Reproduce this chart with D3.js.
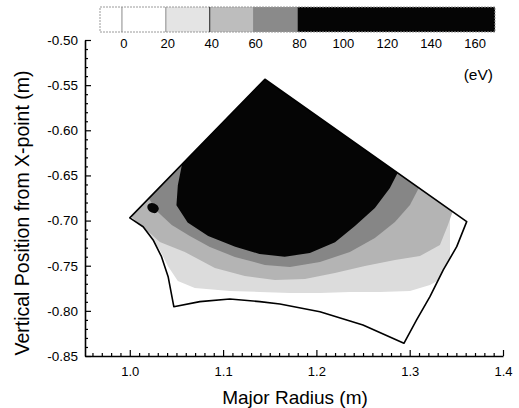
<!DOCTYPE html>
<html>
<head>
<meta charset="utf-8">
<script src="https://cdn.jsdelivr.net/npm/d3@7"></script>
<style>
  body { margin: 0; background: #fff; }
  text { font-family: "Liberation Sans", Arial, Helvetica, sans-serif; fill: #000; }
</style>
</head>
<body>
<svg id="chart" width="519" height="408"></svg>
<script>
// ---- Temperature levels (eV) and the shade used above each one ----
const levelValues = [20, 40, 60, 80];
const levelFills  = ["#dcdcdc", "#b4b4b4", "#868686", "#050505"];

// ---- Colour bar bins (eV) ----
const barLo    = [-10, 0, 20, 40, 60, 80];
const barHi    = [0, 20, 40, 60, 80, 170];
const barFills = ["#ffffff", "#ffffff", "#e4e4e4", "#bdbdbd", "#8a8a8a", "#050505"];
const barTicks = [0, 20, 40, 60, 80, 100, 120, 140, 160];

// ---- Axis ticks ----
const xTicks = [1.0, 1.1, 1.2, 1.3, 1.4];
const yTicks = [-0.85, -0.80, -0.75, -0.70, -0.65, -0.60, -0.55, -0.50];

// ---- Grid outline, [R, Z] in metres ----
const domainOutline = [
  [1.000, -0.6970], [1.1448, -0.5435], [1.3611, -0.7012], [1.3504, -0.7289],
  [1.3360, -0.7547], [1.3217, -0.7843], [1.3074, -0.8101], [1.2938, -0.8359],
  [1.2499, -0.8156], [1.2038, -0.8009], [1.1609, -0.7924], [1.1394, -0.7898],
  [1.1072, -0.7868], [1.0751, -0.7898], [1.0472, -0.7954], [1.0411, -0.7621],
  [1.0340, -0.7400], [1.0250, -0.7215], [1.0143, -0.7068]
];

// ---- Isotherms, [R, Z]; the hotter side lies above each line ----
const iso20 = [
  [1.0054, -0.7016], [1.0214, -0.7171], [1.0322, -0.7326], [1.0408, -0.7503],
  [1.0515, -0.7669], [1.0697, -0.7747], [1.1072, -0.7780], [1.1394, -0.7791],
  [1.1716, -0.7802], [1.2038, -0.7802], [1.2359, -0.7791], [1.2681, -0.7791],
  [1.3003, -0.7780], [1.3217, -0.7713], [1.3432, -0.7592]
];
const iso40 = [
  [0.9979, -0.6927], [1.0129, -0.7060], [1.0322, -0.7237], [1.0590, -0.7348],
  [1.0912, -0.7525], [1.1233, -0.7614], [1.1555, -0.7658], [1.1877, -0.7647],
  [1.2198, -0.7580], [1.2520, -0.7503], [1.2842, -0.7437], [1.3110, -0.7392],
  [1.3324, -0.7270], [1.3410, -0.7049], [1.3485, -0.6827]
];
const iso60 = [
  [1.0107, -0.6606], [1.0300, -0.6905], [1.0450, -0.7049], [1.0643, -0.7171],
  [1.0858, -0.7293], [1.1126, -0.7403], [1.1448, -0.7492], [1.1716, -0.7514],
  [1.2038, -0.7459], [1.2359, -0.7348], [1.2627, -0.7193], [1.2842, -0.7016],
  [1.3003, -0.6827], [1.3131, -0.6573]
];
const iso80 = [
  [1.0590, -0.6218], [1.0515, -0.6610], [1.0500, -0.6830], [1.0620, -0.7020],
  [1.0840, -0.7170], [1.1130, -0.7290], [1.1390, -0.7370], [1.1660, -0.7400],
  [1.1930, -0.7360], [1.2200, -0.7240], [1.2413, -0.7060], [1.2627, -0.6860],
  [1.2788, -0.6640], [1.2917, -0.6380]
];
const isotherms = [iso20, iso40, iso60, iso80];

// Small hot spot near the inner corner (> 80 eV)
const hotSpot = [
  [1.0193, -0.6827], [1.0236, -0.6805], [1.0290, -0.6827], [1.0311, -0.6872],
  [1.0279, -0.6916], [1.0225, -0.6905], [1.0193, -0.6872]
];

// ---- Scales ----
const x = d3.scaleLinear().domain([0.952, 1.4]).range([85, 503]);
const y = d3.scaleLinear().domain([-0.85, -0.50]).range([356, 40]);
const cb = d3.scaleLinear().domain([-10, 170]).range([100, 495]);

const svg = d3.select("#chart");
const line = d3.line().x(d => x(d[0])).y(d => y(d[1]));

// Clip every temperature band to the grid outline
svg.append("defs").append("clipPath").attr("id", "grid-clip")
  .append("path").attr("d", line(domainOutline) + "Z");

const field = svg.append("g").attr("clip-path", "url(#grid-clip)");
field.append("path")
  .attr("d", line(domainOutline) + "Z")
  .attr("fill", "#ffffff");

// Region above each isotherm, closed well above the grid
isotherms.forEach((iso, i) => {
  const top = -0.40;
  const poly = iso.concat([[iso[iso.length - 1][0], top], [iso[0][0], top]]);
  field.append("path")
    .attr("d", line(poly) + "Z")
    .attr("fill", levelFills[i]);
});
field.append("path")
  .attr("d", d3.line().x(d => x(d[0])).y(d => y(d[1])).curve(d3.curveCardinalClosed)(hotSpot))
  .attr("fill", levelFills[3]);

// Grid outline
svg.append("path")
  .attr("d", line(domainOutline) + "Z")
  .attr("fill", "none")
  .attr("stroke", "#000")
  .attr("stroke-width", 1.6)
  .attr("stroke-linejoin", "round");

// ---- Axes ----
const xMinor = d3.range(96, 140).filter(i => i % 10 !== 0).map(i => i / 100);
const yMinor = d3.range(-84, -50).filter(i => i % 5 !== 0).map(i => i / 100);

const gx = svg.append("g").attr("transform", "translate(0,356)");
gx.append("g").call(d3.axisBottom(x).tickValues(xMinor).tickSizeInner(-3).tickSizeOuter(0).tickFormat(""))
  .call(g => g.select(".domain").remove());
gx.append("g").call(d3.axisBottom(x).tickValues(xTicks).tickFormat(d => d.toFixed(1))
    .tickSizeInner(-6).tickSizeOuter(0).tickPadding(11));

const gy = svg.append("g").attr("transform", "translate(85,0)");
gy.append("g").call(d3.axisLeft(y).tickValues(yMinor).tickSizeInner(-3).tickSizeOuter(0).tickFormat(""))
  .call(g => g.select(".domain").remove());
gy.append("g").call(d3.axisLeft(y).tickValues(yTicks).tickFormat(d => d.toFixed(2))
    .tickSizeInner(-6).tickSizeOuter(0).tickPadding(7));

svg.selectAll(".tick line").attr("stroke", "#000").attr("stroke-width", 1.2);
svg.selectAll(".domain").attr("stroke", "#000").attr("stroke-width", 1.6);
gx.selectAll(".tick text").attr("font-size", 13).attr("font-family", "Liberation Sans, Arial, sans-serif");
gy.selectAll(".tick text").attr("font-size", 13.5).attr("font-family", "Liberation Sans, Arial, sans-serif");

// Axis titles
svg.append("text")
  .attr("x", 295).attr("y", 404)
  .attr("text-anchor", "middle")
  .attr("font-size", 19)
  .text("Major Radius (m)");
svg.append("text")
  .attr("transform", "translate(29,213) rotate(-90)")
  .attr("text-anchor", "middle")
  .attr("font-size", 19.5)
  .text("Vertical Position from X-point (m)");

// ---- Colour bar ----
const bar = svg.append("g");
bar.selectAll("rect.bin")
  .data(barLo.map((lo, i) => ({ lo, hi: barHi[i], fill: barFills[i] })))
  .join("rect")
  .attr("class", "bin")
  .attr("x", d => cb(d.lo))
  .attr("y", 7)
  .attr("width", d => cb(d.hi) - cb(d.lo))
  .attr("height", 25)
  .attr("fill", d => d.fill);
bar.append("rect")
  .attr("x", cb(-10)).attr("y", 7)
  .attr("width", cb(170) - cb(-10)).attr("height", 25)
  .attr("fill", "none").attr("stroke", "#9a9a9a").attr("stroke-width", 1)
  .attr("stroke-dasharray", "2,1");
bar.selectAll("line.sep")
  .data([0, 20, 40, 60])
  .join("line")
  .attr("class", "sep")
  .attr("x1", d => cb(d)).attr("x2", d => cb(d))
  .attr("y1", 7).attr("y2", 32)
  .attr("stroke", d => d === 40 ? "#222" : "#8a8a8a")
  .attr("stroke-width", 1);
bar.selectAll("text.cbt")
  .data(barTicks)
  .join("text")
  .attr("class", "cbt")
  .attr("x", d => cb(d) + 2)
  .attr("y", 48)
  .attr("text-anchor", "middle")
  .attr("font-size", 13)
  .text(d => d);

svg.append("text")
  .attr("x", 493).attr("y", 80)
  .attr("text-anchor", "end")
  .attr("font-size", 15.5)
  .text("(eV)");
</script>
</body>
</html>
